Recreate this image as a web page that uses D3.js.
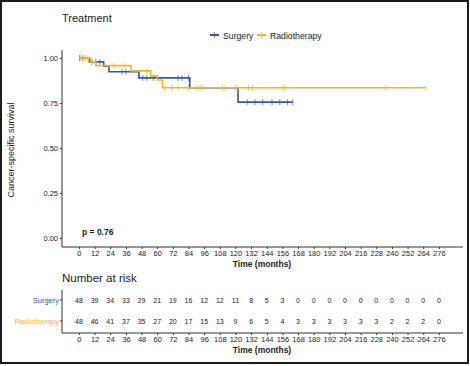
<!DOCTYPE html>
<html>
<head>
<meta charset="utf-8">
<script src="https://cdn.jsdelivr.net/npm/d3@7"></script>
<style>
  body { margin: 0; background: #fff; }
  text { font-family: "Liberation Sans", Arial, sans-serif; }
</style>
</head>
<body>
<div id="vis"></div>
<script>
// Kaplan-Meier steps
var surgeryTimes = [0, 8, 19, 23, 46, 85, 122];
var surgerySurv = [1, 0.979, 0.955, 0.924, 0.89, 0.835, 0.755];
var surgeryEnd = 164;
var surgeryCensor = [0.5, 3, 10, 13, 16, 33, 36, 49, 52, 57, 76, 79, 84, 129, 135, 141, 148, 154, 160, 164];

var radioTimes = [0, 9, 13, 40, 55, 60, 64];
var radioSurv = [1, 0.979, 0.958, 0.929, 0.901, 0.878, 0.835];
var radioEnd = 266;
var radioCensor = [1.5, 4.5, 7, 27, 35, 52, 66, 71, 76, 84, 90, 93, 95, 110, 112, 120, 122, 130, 133, 156, 158, 235, 266];

var timeTicks = d3.range(0, 277, 12);
var survTicks = [0, 0.25, 0.5, 0.75, 1];
var surgeryRisk = [48, 39, 34, 33, 29, 21, 19, 16, 12, 12, 11, 8, 5, 3, 0, 0, 0, 0, 0, 0, 0, 0, 0, 0];
var radioRisk = [48, 46, 41, 37, 35, 27, 20, 17, 15, 13, 9, 6, 5, 4, 3, 3, 3, 3, 3, 3, 2, 2, 2, 0];

var groups = ["Surgery", "Radiotherapy"];
var colors = ["#2f5aaa", "#f2b42a"];

var svg = d3.select('#vis').append('svg').attr('width', 470).attr('height', 366);

// frame
svg.append('rect').attr('x', 1).attr('y', 1).attr('width', 467).attr('height', 362)
  .attr('fill', 'none').attr('stroke', '#1a1a1a').attr('stroke-width', 2);

var x = d3.scaleLinear().domain([-13, 294.5]).range([62, 463]);
var y = d3.scaleLinear().domain([-0.05, 1.045]).range([247, 50]);

// title + legend
svg.append('text').attr('x', 62).attr('y', 22).attr('font-size', 11).attr('fill', '#222').text('Treatment');

var leg = [[210, 223], [257, 270]];
groups.forEach(function(g, i) {
  var lx = leg[i][0];
  svg.append('line').attr('x1', lx).attr('x2', lx + 9).attr('y1', 35).attr('y2', 35)
    .attr('stroke', colors[i]).attr('stroke-width', 2);
  svg.append('line').attr('x1', lx + 4.5).attr('x2', lx + 4.5).attr('y1', 32).attr('y2', 38)
    .attr('stroke', colors[i]).attr('stroke-width', 1).attr('opacity', 0.7);
  svg.append('text').attr('x', leg[i][1]).attr('y', 38.5).attr('font-size', 8.7).attr('fill', '#222').text(g);
});

// axes of main plot
var xAxis = d3.axisBottom(x).tickValues(timeTicks).tickSize(2).tickPadding(1.5);
var yAxis = d3.axisLeft(y).tickValues(survTicks).tickFormat(d3.format('.2f')).tickSize(2).tickPadding(2);

function styleAxis(g) {
  g.select('.domain').remove();
  g.selectAll('line').attr('stroke', '#333');
  g.selectAll('text').attr('font-size', 7.5).attr('fill', '#222').attr('font-family', '"Liberation Sans", Arial, sans-serif');
}

svg.append('g').attr('transform', 'translate(0,247)').call(xAxis).call(styleAxis);
svg.append('g').attr('transform', 'translate(62,0)').call(yAxis).call(styleAxis);
svg.append('line').attr('x1', 62).attr('x2', 463).attr('y1', 247).attr('y2', 247).attr('stroke', '#333');
svg.append('line').attr('x1', 62).attr('x2', 62).attr('y1', 50).attr('y2', 247).attr('stroke', '#333');

svg.append('text').attr('x', 262).attr('y', 267).attr('text-anchor', 'middle')
  .attr('font-size', 8.5).attr('font-weight', 'bold').attr('fill', '#222').text('Time (months)');
svg.append('text').attr('transform', 'translate(14,150) rotate(-90)').attr('text-anchor', 'middle')
  .attr('font-size', 9).attr('fill', '#222').text('Cancer-specific survival');
svg.append('text').attr('x', 82).attr('y', 235).attr('font-size', 8.5).attr('font-weight', 'bold')
  .attr('fill', '#222').text('p = 0.76');

// curves
function stepData(times, surv, end) {
  var pts = times.map(function(t, i) { return [t, surv[i]]; });
  pts.push([end, surv[surv.length - 1]]);
  return pts;
}
function survAt(times, surv, t) {
  var s = surv[0];
  times.forEach(function(tt, i) { if (tt <= t) s = surv[i]; });
  return s;
}
var line = d3.line().x(function(d) { return x(d[0]); }).y(function(d) { return y(d[1]); }).curve(d3.curveStepAfter);

var series = [
  {times: surgeryTimes, surv: surgerySurv, end: surgeryEnd, censor: surgeryCensor},
  {times: radioTimes, surv: radioSurv, end: radioEnd, censor: radioCensor}
];

series.forEach(function(s, i) {
  svg.append('path').datum(stepData(s.times, s.surv, s.end))
    .attr('d', line).attr('fill', 'none').attr('stroke', colors[i]).attr('stroke-width', 1.6);
  svg.selectAll('line.c' + i).data(s.censor).enter().append('line')
    .attr('class', 'c' + i)
    .attr('x1', function(d) { return x(d); }).attr('x2', function(d) { return x(d); })
    .attr('y1', function(d) { return y(survAt(s.times, s.surv, d)) - 3; })
    .attr('y2', function(d) { return y(survAt(s.times, s.surv, d)) + 3; })
    .attr('stroke', colors[i]).attr('stroke-width', 1).attr('opacity', 0.7);
});

// number at risk table
svg.append('text').attr('x', 62).attr('y', 282).attr('font-size', 11.5).attr('fill', '#222').text('Number at risk');

var rows = d3.scalePoint().domain(groups).range([300, 321]);
var risk = [surgeryRisk, radioRisk];

svg.append('g').attr('transform', 'translate(0,333)').call(xAxis).call(styleAxis);
svg.append('line').attr('x1', 62).attr('x2', 463).attr('y1', 333).attr('y2', 333).attr('stroke', '#333');
svg.append('line').attr('x1', 62).attr('x2', 62).attr('y1', 290).attr('y2', 333).attr('stroke', '#333');

groups.forEach(function(g, i) {
  svg.append('line').attr('x1', 60).attr('x2', 62).attr('y1', rows(g)).attr('y2', rows(g)).attr('stroke', '#333');
  svg.append('text').attr('x', 59).attr('y', rows(g) + 3).attr('text-anchor', 'end')
    .attr('font-size', 7.5).attr('fill', colors[i]).text(g);
  svg.selectAll('text.r' + i).data(risk[i]).enter().append('text')
    .attr('class', 'r' + i)
    .attr('x', function(d, j) { return x(timeTicks[j]); })
    .attr('y', rows(g) + 3).attr('text-anchor', 'middle')
    .attr('font-size', 7).attr('fill', '#222').text(function(d) { return d; });
});

svg.append('text').attr('x', 262).attr('y', 353).attr('text-anchor', 'middle')
  .attr('font-size', 8.5).attr('font-weight', 'bold').attr('fill', '#222').text('Time (months)');
</script>
</body>
</html>
